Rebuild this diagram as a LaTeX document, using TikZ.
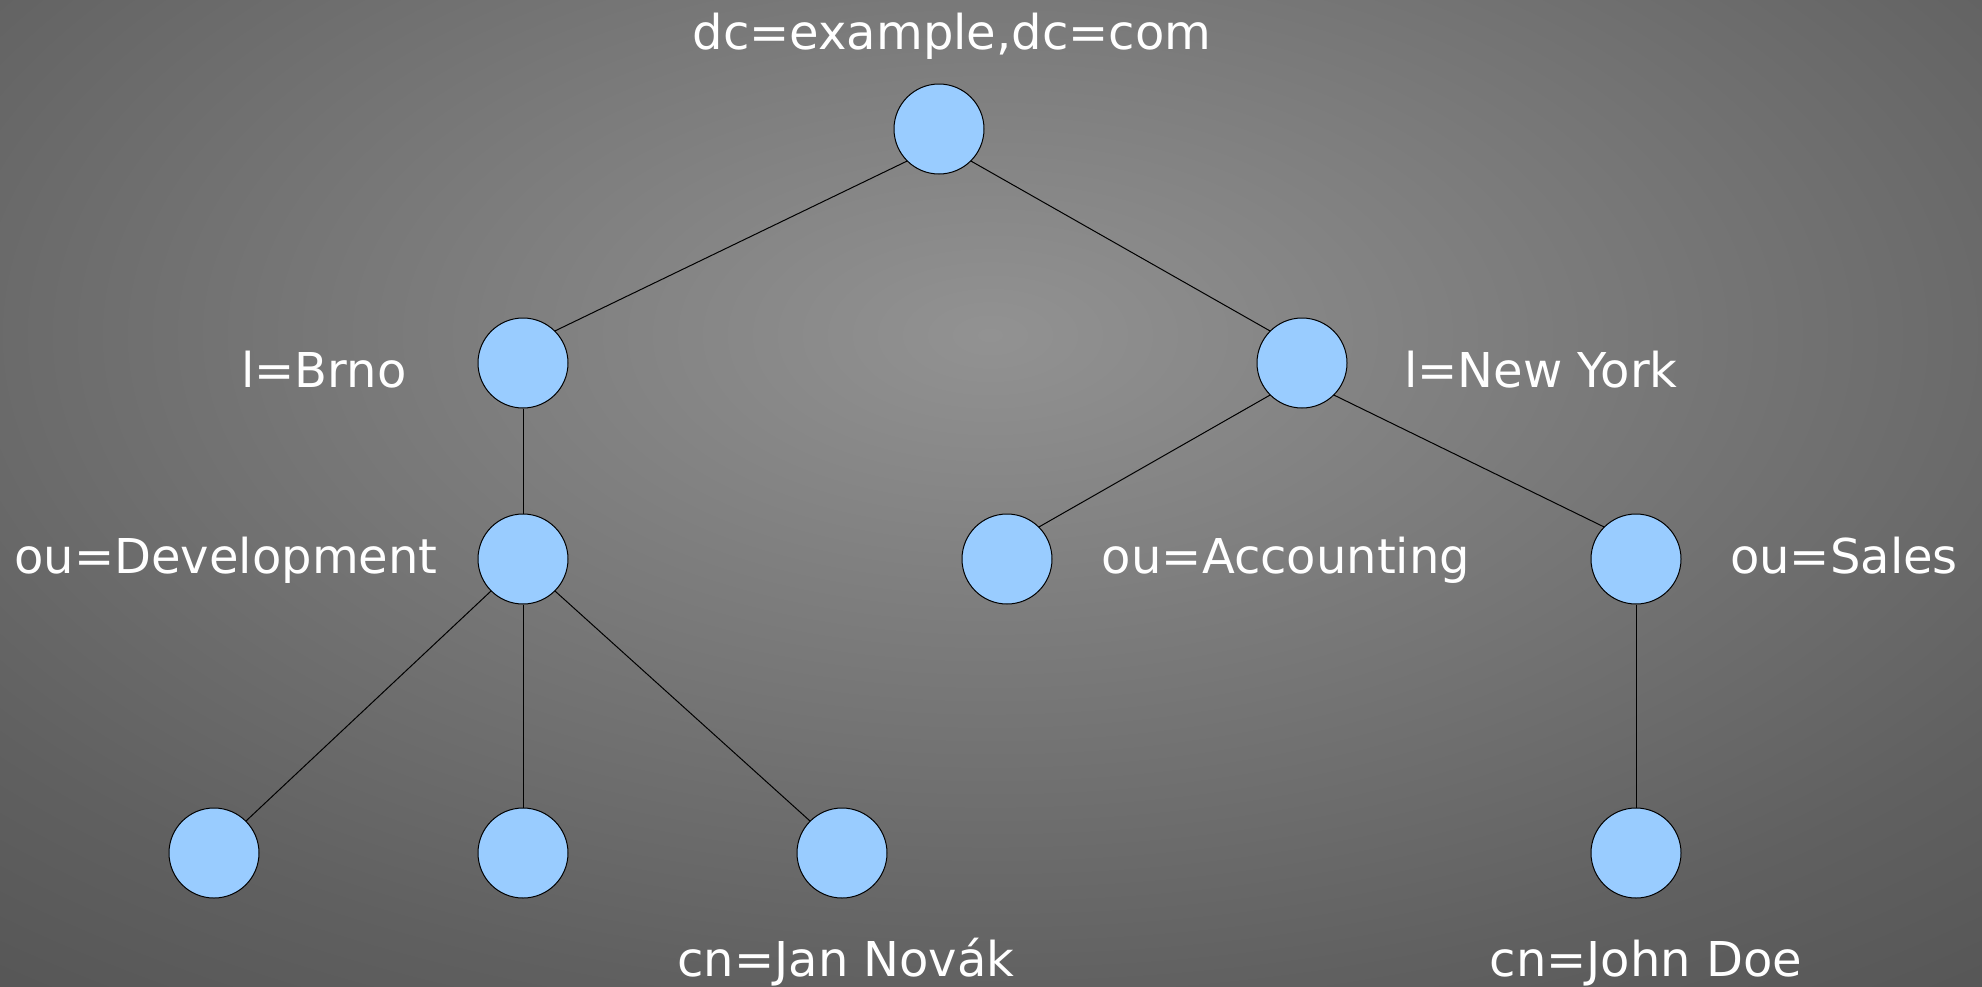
\documentclass[tikz,border=0pt]{standalone}
\usepackage{fontspec}
\setmainfont{DejaVu Sans}
\usepackage{tikz}

\definecolor{entryblue}{RGB}{153,204,255}
\definecolor{bgcentre}{RGB}{146,146,146}
\definecolor{bgedge}{RGB}{96,96,96}
\definecolor{bgcorner}{RGB}{80,80,80}
\pgfdeclareradialshading{bgglow}{\pgfpoint{0bp}{0bp}}{%
  color(0bp)=(bgcentre); color(25bp)=(bgedge); color(36bp)=(bgcorner); color(50bp)=(bgcorner)}

\begin{document}
\begin{tikzpicture}[
  x=0.5pt, y=-0.5pt,
  entry/.style={circle, draw=black, line width=0.5pt, fill=entryblue,
    minimum size=45pt, inner sep=0pt},
  dn/.style={text=white, anchor=base, inner sep=0pt,
    font=\fontsize{24}{29}\selectfont},
  link/.style={draw=black, line width=0.5pt}
]
\useasboundingbox (0,0) rectangle (1982,986);
\begin{scope}
  \clip (0,0) rectangle (1982,986);
  \shade[shading=bgglow] (-260,-330) rectangle (2240,1000);
\end{scope}

% entries
\node[entry] (root) at (939,129) {};
\node[entry] (brno) at (523,363) {};
\node[entry] (ny)   at (1302,363) {};
\node[entry] (dev)  at (523,559) {};
\node[entry] (acc)  at (1007,559) {};
\node[entry] (sales) at (1636,559) {};
\node[entry] (dev1) at (214,853) {};
\node[entry] (dev2) at (523,853) {};
\node[entry] (jan)  at (842,853) {};
\node[entry] (john) at (1636,853) {};

% tree edges
\path[link] (root.south west) -- (brno.north east);
\path[link] (root.south east) -- (ny.north west);
\path[link] (brno.south) -- (dev.north);
\path[link] (ny.south west) -- (acc.north east);
\path[link] (ny.south east) -- (sales.north west);
\path[link] (dev.south west) -- (dev1.north east);
\path[link] (dev.south) -- (dev2.north);
\path[link] (dev.south east) -- (jan.north west);
\path[link] (sales.south) -- (john.north);

% distinguished names
\node[dn] (rootdn)  at (952,49)   {dc=example,dc=com};
\node[dn] (brnodn)  at (324,387)  {l=Brno};
\node[dn] (nydn)    at (1541,387) {l=New York};
\node[dn] (devdn)   at (226,573)  {ou=Development};
\node[dn] (accdn)   at (1286,573) {ou=Accounting};
\node[dn] (salesdn) at (1844,573) {ou=Sales};
\node[dn] (jandn)   at (846,976)  {cn=Jan Novák};
\node[dn] (johndn)  at (1646,976) {cn=John Doe};
\end{tikzpicture}
\end{document}
